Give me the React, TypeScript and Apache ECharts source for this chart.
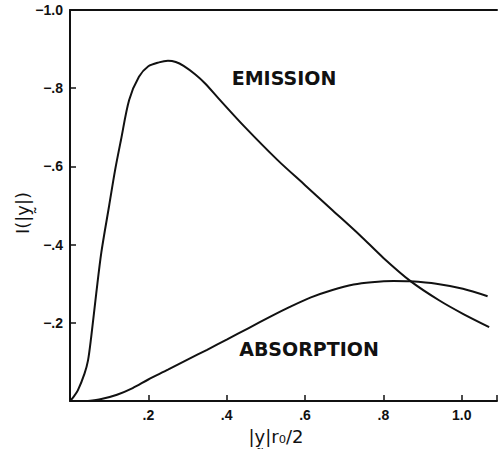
import React, { useEffect, useRef } from "react";
import * as echarts from "echarts";

// Emission curve: [ |y| r0/2 , I(|y|) ]
const emissionX = [0, 0.01, 0.02, 0.037, 0.046, 0.054, 0.067, 0.08, 0.1, 0.115, 0.13, 0.151, 0.176, 0.2, 0.227, 0.25, 0.27, 0.29, 0.32, 0.345, 0.379, 0.446, 0.53, 0.6, 0.67, 0.74, 0.8, 0.87, 0.943, 1.003, 1.07];
const emissionY = [0, -0.012, -0.027, -0.07, -0.104, -0.163, -0.275, -0.38, -0.5, -0.59, -0.667, -0.77, -0.829, -0.856, -0.866, -0.87, -0.867, -0.857, -0.835, -0.812, -0.774, -0.701, -0.616, -0.552, -0.488, -0.424, -0.366, -0.306, -0.257, -0.223, -0.189];

// Absorption curve
const absorptionX = [0.046, 0.08, 0.12, 0.16, 0.2, 0.25, 0.3, 0.35, 0.4, 0.455, 0.514, 0.56, 0.615, 0.67, 0.724, 0.77, 0.826, 0.868, 0.935, 1.003, 1.066];
const absorptionY = [0, -0.005, -0.016, -0.033, -0.055, -0.08, -0.106, -0.131, -0.157, -0.186, -0.217, -0.24, -0.265, -0.284, -0.298, -0.304, -0.307, -0.306, -0.3, -0.287, -0.268];

const xTickLabels: Record<string, string> = { "0.2": ".2", "0.4": ".4", "0.6": ".6", "0.8": ".8", "1": "1.0" };
const yTickLabels: Record<string, string> = { "-1": "\u22121.0", "-0.8": "\u2212.8", "-0.6": "\u2212.6", "-0.4": "\u2212.4", "-0.2": "\u2212.2" };

const seriesLabels = ["EMISSION", "ABSORPTION"];
const xTitle = "|y\u0330|r\u2080/2";
const yTitle = "I(|y\u0330|)";

const INK = "#111";

export default function App() {
  const ref = useRef<HTMLDivElement>(null);
  useEffect(() => {
    if (!ref.current) return;
    const chart = echarts.init(ref.current, undefined, { renderer: "svg" });
    const key = (v: number) => String(Math.round(v * 10) / 10);
    const emission = emissionX.map((x, i) => [x, emissionY[i]]);
    const absorption = absorptionX.map((x, i) => [x, absorptionY[i]]);
    chart.setOption({
      animation: false,
      backgroundColor: "#fff",
      grid: { left: 70, right: 0, top: 10, bottom: 48 },
      xAxis: [
        {
          type: "value",
          min: 0,
          max: 1.09,
          interval: 0.2,
          splitLine: { show: false },
          axisLine: { show: true, onZero: false, lineStyle: { color: INK, width: 2 } },
          axisTick: { show: true, inside: true, length: 6, lineStyle: { color: INK, width: 1.5 } },
          axisLabel: {
            margin: 7,
            color: INK,
            fontFamily: "Liberation Sans",
            fontWeight: "bold",
            fontSize: 14,
            formatter: (v: number) => xTickLabels[key(v)] ?? "",
          },
        },
        {
          type: "value",
          position: "top",
          min: 0,
          max: 1.09,
          splitLine: { show: false },
          axisLine: { show: true, onZero: false, lineStyle: { color: INK, width: 2 } },
          axisTick: { show: false },
          axisLabel: { show: false },
        },
      ],
      yAxis: {
        type: "value",
        min: -1,
        max: 0,
        interval: 0.2,
        inverse: true,
        splitLine: { show: false },
        axisLine: { show: true, onZero: false, lineStyle: { color: INK, width: 2 } },
        axisTick: { show: true, inside: true, length: 6, lineStyle: { color: INK, width: 1.5 } },
        axisLabel: {
          margin: 7,
          color: INK,
          fontFamily: "Liberation Sans",
          fontWeight: "bold",
          fontSize: 14,
          formatter: (v: number) => yTickLabels[key(v)] ?? "",
        },
      },
      series: [
        {
          name: seriesLabels[0],
          type: "line",
          data: emission,
          showSymbol: false,
          smooth: 0.3,
          lineStyle: { color: INK, width: 2 },
        },
        {
          name: seriesLabels[1],
          type: "line",
          data: absorption,
          showSymbol: false,
          smooth: 0.3,
          lineStyle: { color: INK, width: 2 },
        },
      ],
      graphic: [
        {
          type: "text",
          x: 284,
          y: 78,
          style: {
            text: seriesLabels[0],
            fill: INK,
            font: "bold 19px 'DejaVu Sans'",
            align: "center",
            verticalAlign: "middle",
          },
        },
        {
          type: "text",
          x: 309,
          y: 349,
          style: {
            text: seriesLabels[1],
            fill: INK,
            font: "bold 19px 'DejaVu Sans'",
            align: "center",
            verticalAlign: "middle",
          },
        },
        {
          type: "text",
          x: 276,
          y: 436,
          style: {
            text: xTitle,
            fill: INK,
            font: "18px 'DejaVu Sans'",
            align: "center",
            verticalAlign: "middle",
          },
        },
        {
          type: "text",
          x: 22,
          y: 213,
          rotation: Math.PI / 2,
          style: {
            text: yTitle,
            fill: INK,
            font: "18px 'DejaVu Sans'",
            align: "center",
            verticalAlign: "middle",
          },
        },
      ],
    });
    return () => chart.dispose();
  }, []);
  return (
    <div
      ref={ref}
      style={{ position: "fixed", left: 0, top: 0, width: 500, height: 449, background: "#fff" }}
    />
  );
}
